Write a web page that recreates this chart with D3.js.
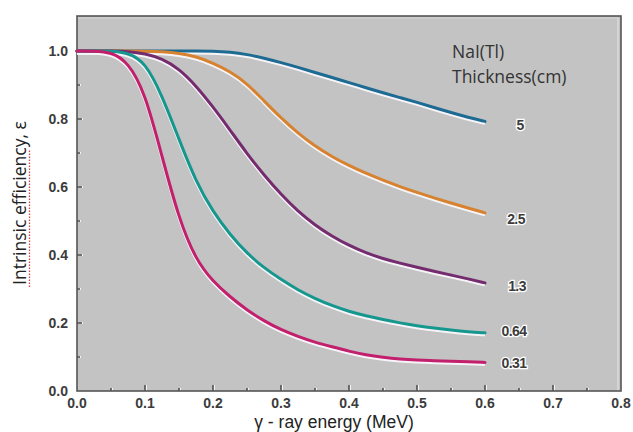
<!DOCTYPE html>
<html><head><meta charset="utf-8">
<script src="https://cdn.jsdelivr.net/npm/d3@7"></script>
<style>
html,body{margin:0;padding:0;background:#fff;}
svg{display:block;}
</style></head>
<body>
<svg id="chart" width="633" height="432"></svg>
<script>
// ---- data ----
const energy = [0, 0.025, 0.05, 0.075, 0.1, 0.125, 0.15, 0.175, 0.2, 0.225, 0.25, 0.275, 0.3, 0.325, 0.35, 0.375, 0.4, 0.425, 0.45, 0.475, 0.5, 0.525, 0.55, 0.575, 0.6];
const thickness = ["5", "2.5", "1.3", "0.64", "0.31"];
const eff5    = [1, 1, 1, 1, 1, 1, 1, 1.0, 1.0, 0.997, 0.99, 0.979, 0.966, 0.952, 0.937, 0.922, 0.907, 0.892, 0.877, 0.863, 0.849, 0.834, 0.819, 0.805, 0.793];
const eff2_5  = [1, 1, 1, 1, 1.0, 0.998, 0.994, 0.984, 0.965, 0.94, 0.905, 0.853, 0.803, 0.758, 0.72, 0.689, 0.663, 0.64, 0.62, 0.601, 0.584, 0.568, 0.553, 0.538, 0.524];
const eff1_3  = [1, 1, 1.0, 0.999, 0.993, 0.978, 0.948, 0.898, 0.836, 0.768, 0.698, 0.635, 0.578, 0.528, 0.488, 0.455, 0.428, 0.406, 0.389, 0.376, 0.364, 0.352, 0.341, 0.33, 0.318];
const eff0_64 = [1, 1, 1.0, 0.995, 0.968, 0.87, 0.74, 0.615, 0.527, 0.46, 0.405, 0.362, 0.328, 0.297, 0.272, 0.251, 0.234, 0.221, 0.21, 0.2, 0.192, 0.185, 0.179, 0.174, 0.171];
const eff0_31 = [1, 1, 0.997, 0.968, 0.878, 0.69, 0.505, 0.385, 0.322, 0.277, 0.238, 0.206, 0.18, 0.16, 0.143, 0.13, 0.117, 0.106, 0.099, 0.094, 0.091, 0.089, 0.087, 0.086, 0.084];
const xTicks = [0, 0.1, 0.2, 0.3, 0.4, 0.5, 0.6, 0.7, 0.8];
const yTicks = [0, 0.2, 0.4, 0.6, 0.8, 1.0];
const seriesValues = [eff5, eff2_5, eff1_3, eff0_64, eff0_31];
const colors = ["#1d6a93", "#d6822f", "#742c6e", "#15978e", "#c21f6c"];

// ---- layout ----
const svg = d3.select("#chart");
const L = 77, R = 621, T = 16, B = 391;
const x = d3.scaleLinear().domain([0, 0.8]).range([L, R]);
const y = d3.scaleLinear().domain([0, 1.103]).range([B, T]);

svg.append("rect").attr("x", L).attr("y", T).attr("width", R - L).attr("height", B - T)
  .attr("fill", "#c3c3c3");

// inner highlight lines (right/top)
svg.append("line").attr("x1", R - 3).attr("x2", R - 3).attr("y1", T + 2).attr("y2", B).attr("stroke", "#e4e4e4").attr("stroke-width", 1);
svg.append("line").attr("x1", L).attr("x2", R - 3).attr("y1", T + 2).attr("y2", T + 2).attr("stroke", "#d6d6d6").attr("stroke-width", 1);

// ticks (inward) with minor ticks
const g = svg.append("g");
const xMinor = d3.range(0.05, 0.8, 0.1);
const yMinor = d3.range(0.1, 1.0, 0.2);
function tick(x1, y1, x2, y2, w) {
  g.append("line").attr("x1", x1 + 1).attr("y1", y1).attr("x2", x2 + 1).attr("y2", y2).attr("stroke", "#f4f4f4").attr("stroke-width", w + 0.5);
  g.append("line").attr("x1", x1).attr("y1", y1).attr("x2", x2).attr("y2", y2).attr("stroke", "#444").attr("stroke-width", w);
}
xTicks.slice(1, -1).forEach(v => tick(x(v), B, x(v), B - 6, 1.5));
xMinor.forEach(v => tick(x(v), B, x(v), B - 3, 1.5));
yTicks.slice(1).forEach(v => tick(L, y(v), L + 5, y(v), 1.5));
yMinor.forEach(v => tick(L, y(v), L + 3, y(v), 1.5));

// frame
svg.append("rect").attr("x", L).attr("y", T).attr("width", R - L).attr("height", B - T)
  .attr("fill", "none").attr("stroke", "#555").attr("stroke-width", 1.6);

// tick labels
const tickFont = "'Liberation Sans', Arial, sans-serif";
svg.append("g").selectAll("text").data(xTicks).join("text")
  .attr("x", d => x(d)).attr("y", 408).attr("text-anchor", "middle")
  .attr("font-family", tickFont).attr("font-size", 14).attr("font-weight", "bold").attr("fill", "#3c3c3c")
  .text(d => d.toFixed(1));
svg.append("g").selectAll("text").data(yTicks).join("text")
  .attr("x", 68).attr("y", d => y(d) + 5).attr("text-anchor", "end")
  .attr("font-family", tickFont).attr("font-size", 14).attr("font-weight", "bold").attr("fill", "#3c3c3c")
  .text(d => d.toFixed(1));

// curves
const line = d3.line().x((d, i) => x(energy[i])).y(d => y(d)).curve(d3.curveBasis);
const lines = svg.append("g");
seriesValues.forEach((vals, k) => {
  lines.append("path").attr("d", line(vals)).attr("fill", "none")
    .attr("stroke", "#f6f4f8").attr("stroke-width", 3).attr("transform", "translate(0,2)");
});
seriesValues.forEach((vals, k) => {
  lines.append("path").attr("d", line(vals)).attr("fill", "none")
    .attr("stroke", colors[k]).attr("stroke-width", 3).attr("stroke-linecap", "round");
});

// curve labels
const labelDx = [35, 31, 32, 29, 29];
const labelDy = [9, 11, 8.5, 3, 6];
svg.append("g").selectAll("text").data(thickness).join("text")
  .attr("x", (d, i) => x(energy[energy.length - 1]) + labelDx[i])
  .attr("y", (d, i) => y(seriesValues[i][energy.length - 1]) + labelDy[i])
  .attr("text-anchor", "middle")
  .attr("font-family", tickFont).attr("font-size", 14).attr("font-weight", "bold")
  .attr("fill", "#3c3c3c").attr("stroke", "#fff").attr("stroke-width", 2.5).attr("paint-order", "stroke")
  .attr("letter-spacing", -0.6)
  .text(d => d);

// legend title
const lf = "'Open Sans', 'Noto Sans', sans-serif";
svg.append("text").attr("x", 452).attr("y", 58).attr("font-family", lf).attr("font-size", 17.5).attr("fill", "#333").text("NaI(Tl)");
svg.append("text").attr("x", 452).attr("y", 83).attr("font-family", lf).attr("font-size", 17.5).attr("fill", "#333").text("Thickness(cm)");

// axis titles
svg.append("text").attr("x", 334).attr("y", 428).attr("text-anchor", "middle")
  .attr("font-family", tickFont).attr("font-size", 17.5).attr("fill", "#222").text("γ - ray energy (MeV)");
const yt = svg.append("g").attr("transform", "translate(26,203) rotate(-90)");
yt.append("text").attr("x", 0).attr("y", 0).attr("text-anchor", "middle")
  .attr("font-family", lf).attr("font-size", 17.5).attr("fill", "#222").text("Intrinsic efficiency, ε");
yt.append("line").attr("x1", -84).attr("x2", 54).attr("y1", 3.5).attr("y2", 3.5)
  .attr("stroke", "#e04040").attr("stroke-width", 1.3).attr("stroke-dasharray", "1.5,1.5");
</script>
</body></html>
